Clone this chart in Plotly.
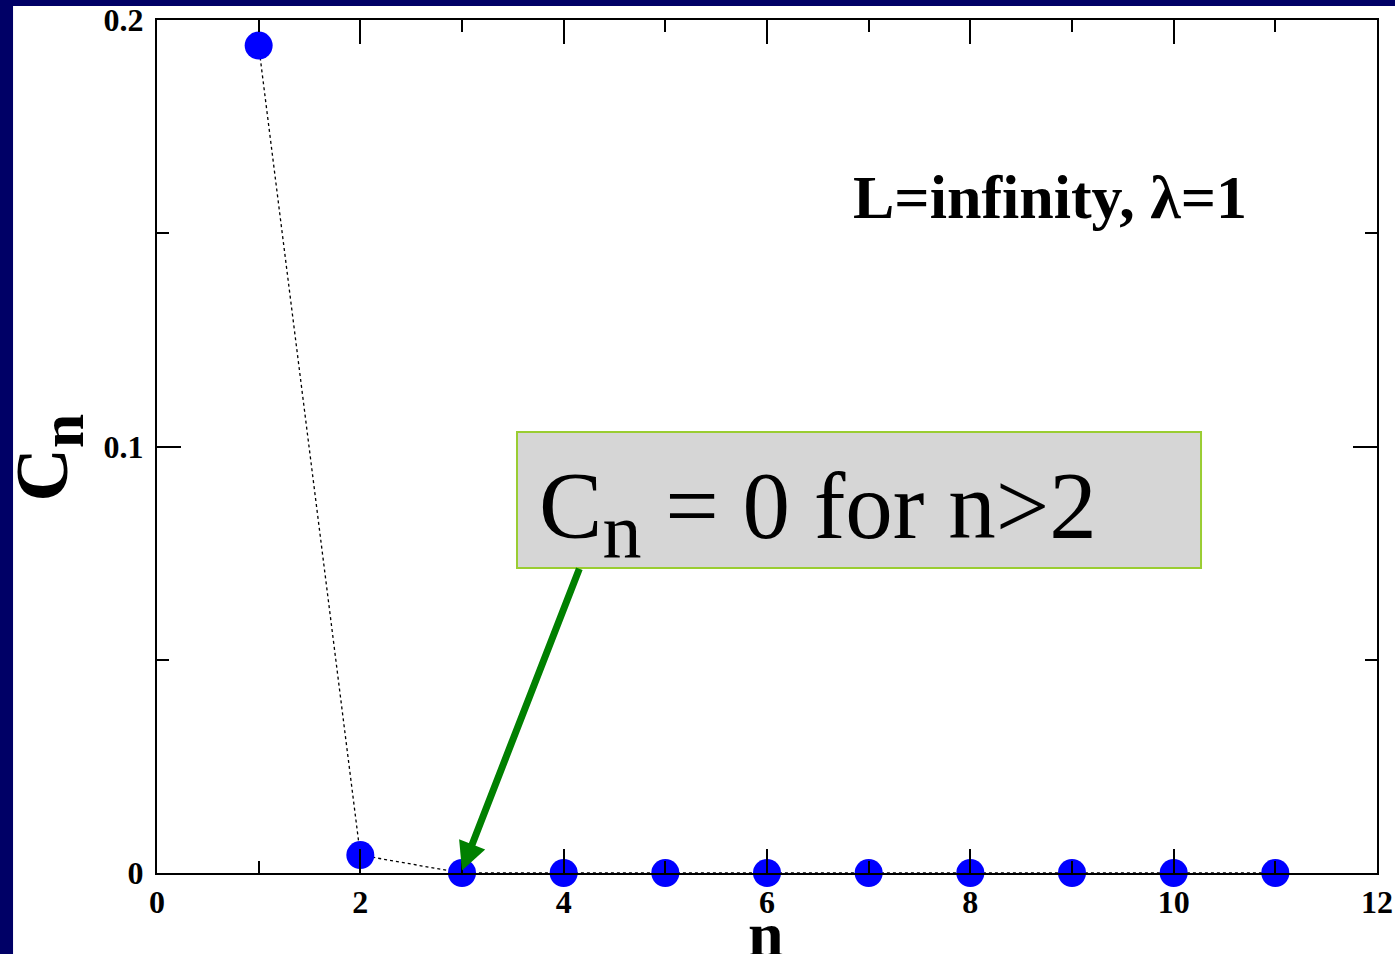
import plotly.graph_objects as go

# Coefficients C_n versus n
n_values = [1, 2, 3, 4, 5, 6, 7, 8, 9, 10, 11]
cn_values = [0.194, 0.0042, 0, 0, 0, 0, 0, 0, 0, 0, 0]

x_ticks = [0, 2, 4, 6, 8, 10, 12]
y_ticks = [0, 0.1, 0.2]

SERIF = "Liberation Serif"
NAVY = "#000066"

fig = go.Figure()

fig.add_trace(go.Scatter(
    x=n_values, y=cn_values,
    mode="lines+markers",
    line=dict(color="black", width=1.3, dash="dot"),
    marker=dict(color="#0000ff", size=28, line=dict(width=0)),
    cliponaxis=False,
    showlegend=False,
))

axis_common = dict(
    showgrid=False, zeroline=False, automargin=False,
    showline=True, linecolor="black", linewidth=2, mirror="ticks",
    ticks="inside", ticklen=24, tickwidth=1.5, tickcolor="black",
    tickfont=dict(family=SERIF, size=32, color="black", weight="bold"),
    layer="above traces",
)

fig.update_xaxes(
    range=[0, 12], tickvals=x_ticks, ticktext=[str(v) for v in x_ticks],
    minor=dict(dtick=1, ticks="inside", ticklen=12, tickwidth=1.5, tickcolor="black"),
    ticklabelstandoff=0,
    **axis_common,
)
fig.update_yaxes(
    range=[0, 0.2], tickvals=y_ticks, ticktext=["0", "0.1", "0.2"],
    minor=dict(dtick=0.05, ticks="inside", ticklen=12, tickwidth=1.5, tickcolor="black"),
    ticklabelstandoff=5,
    **axis_common,
)

# white page on a navy slide background
fig.add_shape(type="rect", xref="paper", yref="paper",
              x0=-0.118, x1=1.1, y0=-0.2, y1=1.0164,
              fillcolor="white", line=dict(width=0), layer="below")

# callout box
fig.add_shape(type="rect", xref="x", yref="y",
              x0=3.541, x1=10.269, y0=0.0715, y1=0.1034,
              fillcolor="#d6d6d6", line=dict(color="#9acd32", width=2), layer="above")

annotations = [
    dict(x=3.0, y=0.0006, ax=4.16, ay=0.0717, xref="x", yref="y", axref="x", ayref="y",
         text="", showarrow=True, arrowhead=2, arrowwidth=7, arrowsize=0.8,
         arrowcolor="#008000"),
    dict(x=3.747, y=0.0987, xref="x", yref="y", xanchor="left", yanchor="top",
         text='C<sub><span style="font-size:78px">n</span></sub> = 0 for n>2',
         showarrow=False, borderpad=0,
         font=dict(family=SERIF, size=95, color="black")),
    dict(x=8.783, y=0.1667, xref="x", yref="y", xanchor="center", yanchor="top",
         text="L=infinity, λ=1", showarrow=False, borderpad=0,
         font=dict(family=SERIF, size=62, color="black", weight="bold")),
    dict(x=0.4992, y=-0.0295, xref="paper", yref="paper", xanchor="center", yanchor="top",
         text="n", showarrow=False, borderpad=0,
         font=dict(family=SERIF, size=64, color="black", weight="bold")),
    dict(x=-0.0885, y=0.487, xref="paper", yref="paper", xanchor="center", yanchor="middle",
         text='C<sub><span style="font-size:62px">n</span></sub>', textangle=-90,
         showarrow=False, borderpad=0,
         font=dict(family=SERIF, size=74, color="black", weight="bold")),
]
fig.update_layout(annotations=annotations)

fig.update_layout(
    width=1395, height=954, autosize=False,
    margin=dict(l=157, r=18, t=20, b=81),
    paper_bgcolor=NAVY, plot_bgcolor="white",
)

fig.write_html("out.html")
